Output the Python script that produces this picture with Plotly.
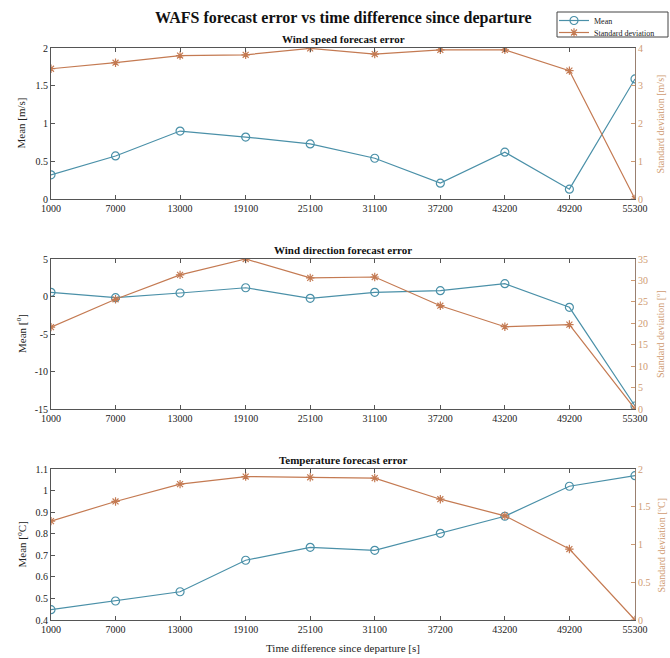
import plotly.graph_objects as go
from plotly.subplots import make_subplots

time_s = [1000, 7000, 13000, 19100, 25100, 31100, 37200, 43200, 49200, 55300]
tick_labels = ["1000", "7000", "13000", "19100", "25100", "31100", "37200", "43200", "49200", "55300"]

speed_mean = [0.32, 0.57, 0.90, 0.82, 0.73, 0.54, 0.21, 0.62, 0.13, 1.59]
speed_std = [3.45, 3.61, 3.80, 3.82, 3.99, 3.84, 3.95, 3.95, 3.40, 0.0]

dir_mean = [0.56, -0.16, 0.47, 1.17, -0.24, 0.56, 0.78, 1.71, -1.44, -14.6]
dir_std = [19.1, 25.6, 31.3, 35.0, 30.6, 30.8, 24.1, 19.2, 19.7, 0.0]

temp_mean = [0.448, 0.488, 0.531, 0.677, 0.737, 0.723, 0.802, 0.881, 1.02, 1.069]
temp_std = [1.31, 1.57, 1.80, 1.90, 1.89, 1.88, 1.60, 1.38, 0.94, 0.0]

subtitles = ["Wind speed forecast error", "Wind direction forecast error", "Temperature forecast error"]
left_titles = ["Mean [m/s]", "Mean [<sup>o</sup>]", "Mean [<sup>o</sup>C]"]
right_titles = ["Standard deviation [m/s]", "Standard deviation [<sup>o</sup>]", "Standard deviation [<sup>o</sup>C]"]
left_ranges = [[0, 2], [-15, 5], [0.4, 1.1]]
left_ticks = [[0, 0.5, 1, 1.5, 2], [-15, -10, -5, 0, 5], [0.4, 0.5, 0.6, 0.7, 0.8, 0.9, 1.0, 1.1]]
left_ticktext = [["0", "0.5", "1", "1.5", "2"], ["-15", "-10", "-5", "0", "5"],
                 ["0.4", "0.5", "0.6", "0.7", "0.8", "0.9", "1", "1.1"]]
right_ranges = [[0, 4], [0, 35], [0, 2]]
right_ticks = [[0, 1, 2, 3, 4], [0, 5, 10, 15, 20, 25, 30, 35], [0, 0.5, 1, 1.5, 2]]

MEAN_C = "#4a90a8"
STD_C = "#c47a52"
RIGHT_TXT = "#cf9b72"
AX_C = "#555555"
FONT = "Liberation Serif, Times New Roman, serif"

fig = make_subplots(rows=3, cols=1, specs=[[{"secondary_y": True}]] * 3)

means = [speed_mean, dir_mean, temp_mean]
stds = [speed_std, dir_std, temp_std]
for i in range(3):
    fig.add_trace(go.Scatter(x=time_s, y=means[i], mode="lines+markers", name="Mean",
                             line=dict(color=MEAN_C, width=1.2),
                             marker=dict(symbol="circle-open", size=8, color=MEAN_C, line=dict(width=1.2)),
                             showlegend=(i == 0), legend="legend"), row=i + 1, col=1, secondary_y=False)
    fig.add_trace(go.Scatter(x=time_s, y=stds[i], mode="lines+markers", name="Standard deviation",
                             line=dict(color=STD_C, width=1.2),
                             marker=dict(symbol="asterisk-open", size=7, color=STD_C, line=dict(width=1.2, color=STD_C)),
                             showlegend=(i == 0), legend="legend2"), row=i + 1, col=1, secondary_y=True)

# pixel-based layout
ML, MR, MT, MB = 51, 35, 48, 38
W, H = 670, 658
PH = H - MT - MB
def py(p):
    return (H - MB - p) / PH
def px(p):
    return (p - ML) / (W - ML - MR)

panels = [(48, 199), (259, 409), (469, 620)]

for i, (top, bot) in enumerate(panels):
    dom = [py(bot), py(top)]
    xn = "xaxis" if i == 0 else f"xaxis{i + 1}"
    yl = "yaxis" if i == 0 else f"yaxis{2 * i + 1}"
    yr = f"yaxis{2 * i + 2}"
    fig.layout[xn].update(domain=[0, 1], range=[1000, 55300], tickvals=time_s, ticktext=tick_labels,
                          ticks="inside", ticklen=4, tickcolor=AX_C, showline=True, linecolor=AX_C,
                          linewidth=1, mirror="ticks", showgrid=False, zeroline=False,
                          tickfont=dict(family=FONT, size=10, color="#222"), automargin=False)
    fig.layout[yl].update(domain=dom, range=left_ranges[i], tickvals=left_ticks[i], ticktext=left_ticktext[i],
                          ticks="inside", ticklen=4, tickcolor=AX_C, showline=True, linecolor=AX_C,
                          linewidth=1, showgrid=False, zeroline=False,
                          tickfont=dict(family=FONT, size=10, color="#222"), automargin=False)
    fig.layout[yr].update(range=right_ranges[i], tickvals=right_ticks[i],
                          ticks="inside", ticklen=4, tickcolor=RIGHT_TXT, showline=True, linecolor="#9a8070",
                          linewidth=1, showgrid=False, zeroline=False,
                          tickfont=dict(family=FONT, size=10, color=RIGHT_TXT), automargin=False)
    fig.add_annotation(x=0.5, xref="paper", y=py(top - 9), yref="paper", text=f"<b>{subtitles[i]}</b>",
                       showarrow=False, font=dict(family=FONT, size=11, color="#111"), yanchor="middle")
    mid = (top + bot) / 2
    fig.add_annotation(x=px(21), xref="paper", y=py(mid), yref="paper", text=left_titles[i],
                       textangle=-90, showarrow=False, font=dict(family=FONT, size=11, color="#222"),
                       xanchor="center", yanchor="middle")
    fig.add_annotation(x=px(660), xref="paper", y=py(mid), yref="paper", text=right_titles[i],
                       textangle=-90, showarrow=False, font=dict(family=FONT, size=10, color=RIGHT_TXT),
                       xanchor="center", yanchor="middle")

fig.add_annotation(x=0.5, xref="paper", y=py(18), yref="paper",
                   text="<b>WAFS forecast error vs time difference since departure</b>",
                   showarrow=False, font=dict(family=FONT, size=16, color="#111"), yanchor="middle")
fig.add_annotation(x=0.5, xref="paper", y=py(648), yref="paper",
                   text="Time difference since departure [s]",
                   showarrow=False, font=dict(family=FONT, size=11, color="#222"), yanchor="middle")

# legend frame
fig.add_shape(type="rect", xref="paper", yref="paper", x0=px(557), x1=px(668), y0=py(37), y1=py(12),
              line=dict(color="#444", width=1), fillcolor="white", layer="below")

leg_common = dict(xref="container", yref="container", xanchor="left", yanchor="top",
                  borderwidth=0, bgcolor="rgba(0,0,0,0)",
                  font=dict(family=FONT, size=8, color="#222"), itemwidth=30)

fig.update_layout(
    width=W, height=H,
    margin=dict(l=ML, r=MR, t=MT, b=MB, autoexpand=False),
    paper_bgcolor="white", plot_bgcolor="white",
    font=dict(family=FONT),
    legend=dict(x=554 / W, y=1 - 6 / H, **leg_common),
    legend2=dict(x=554 / W, y=1 - 18 / H, **leg_common),
)

fig.write_html("out.html", config={"displayModeBar": False},
               post_script="document.body.style.margin='0';")
